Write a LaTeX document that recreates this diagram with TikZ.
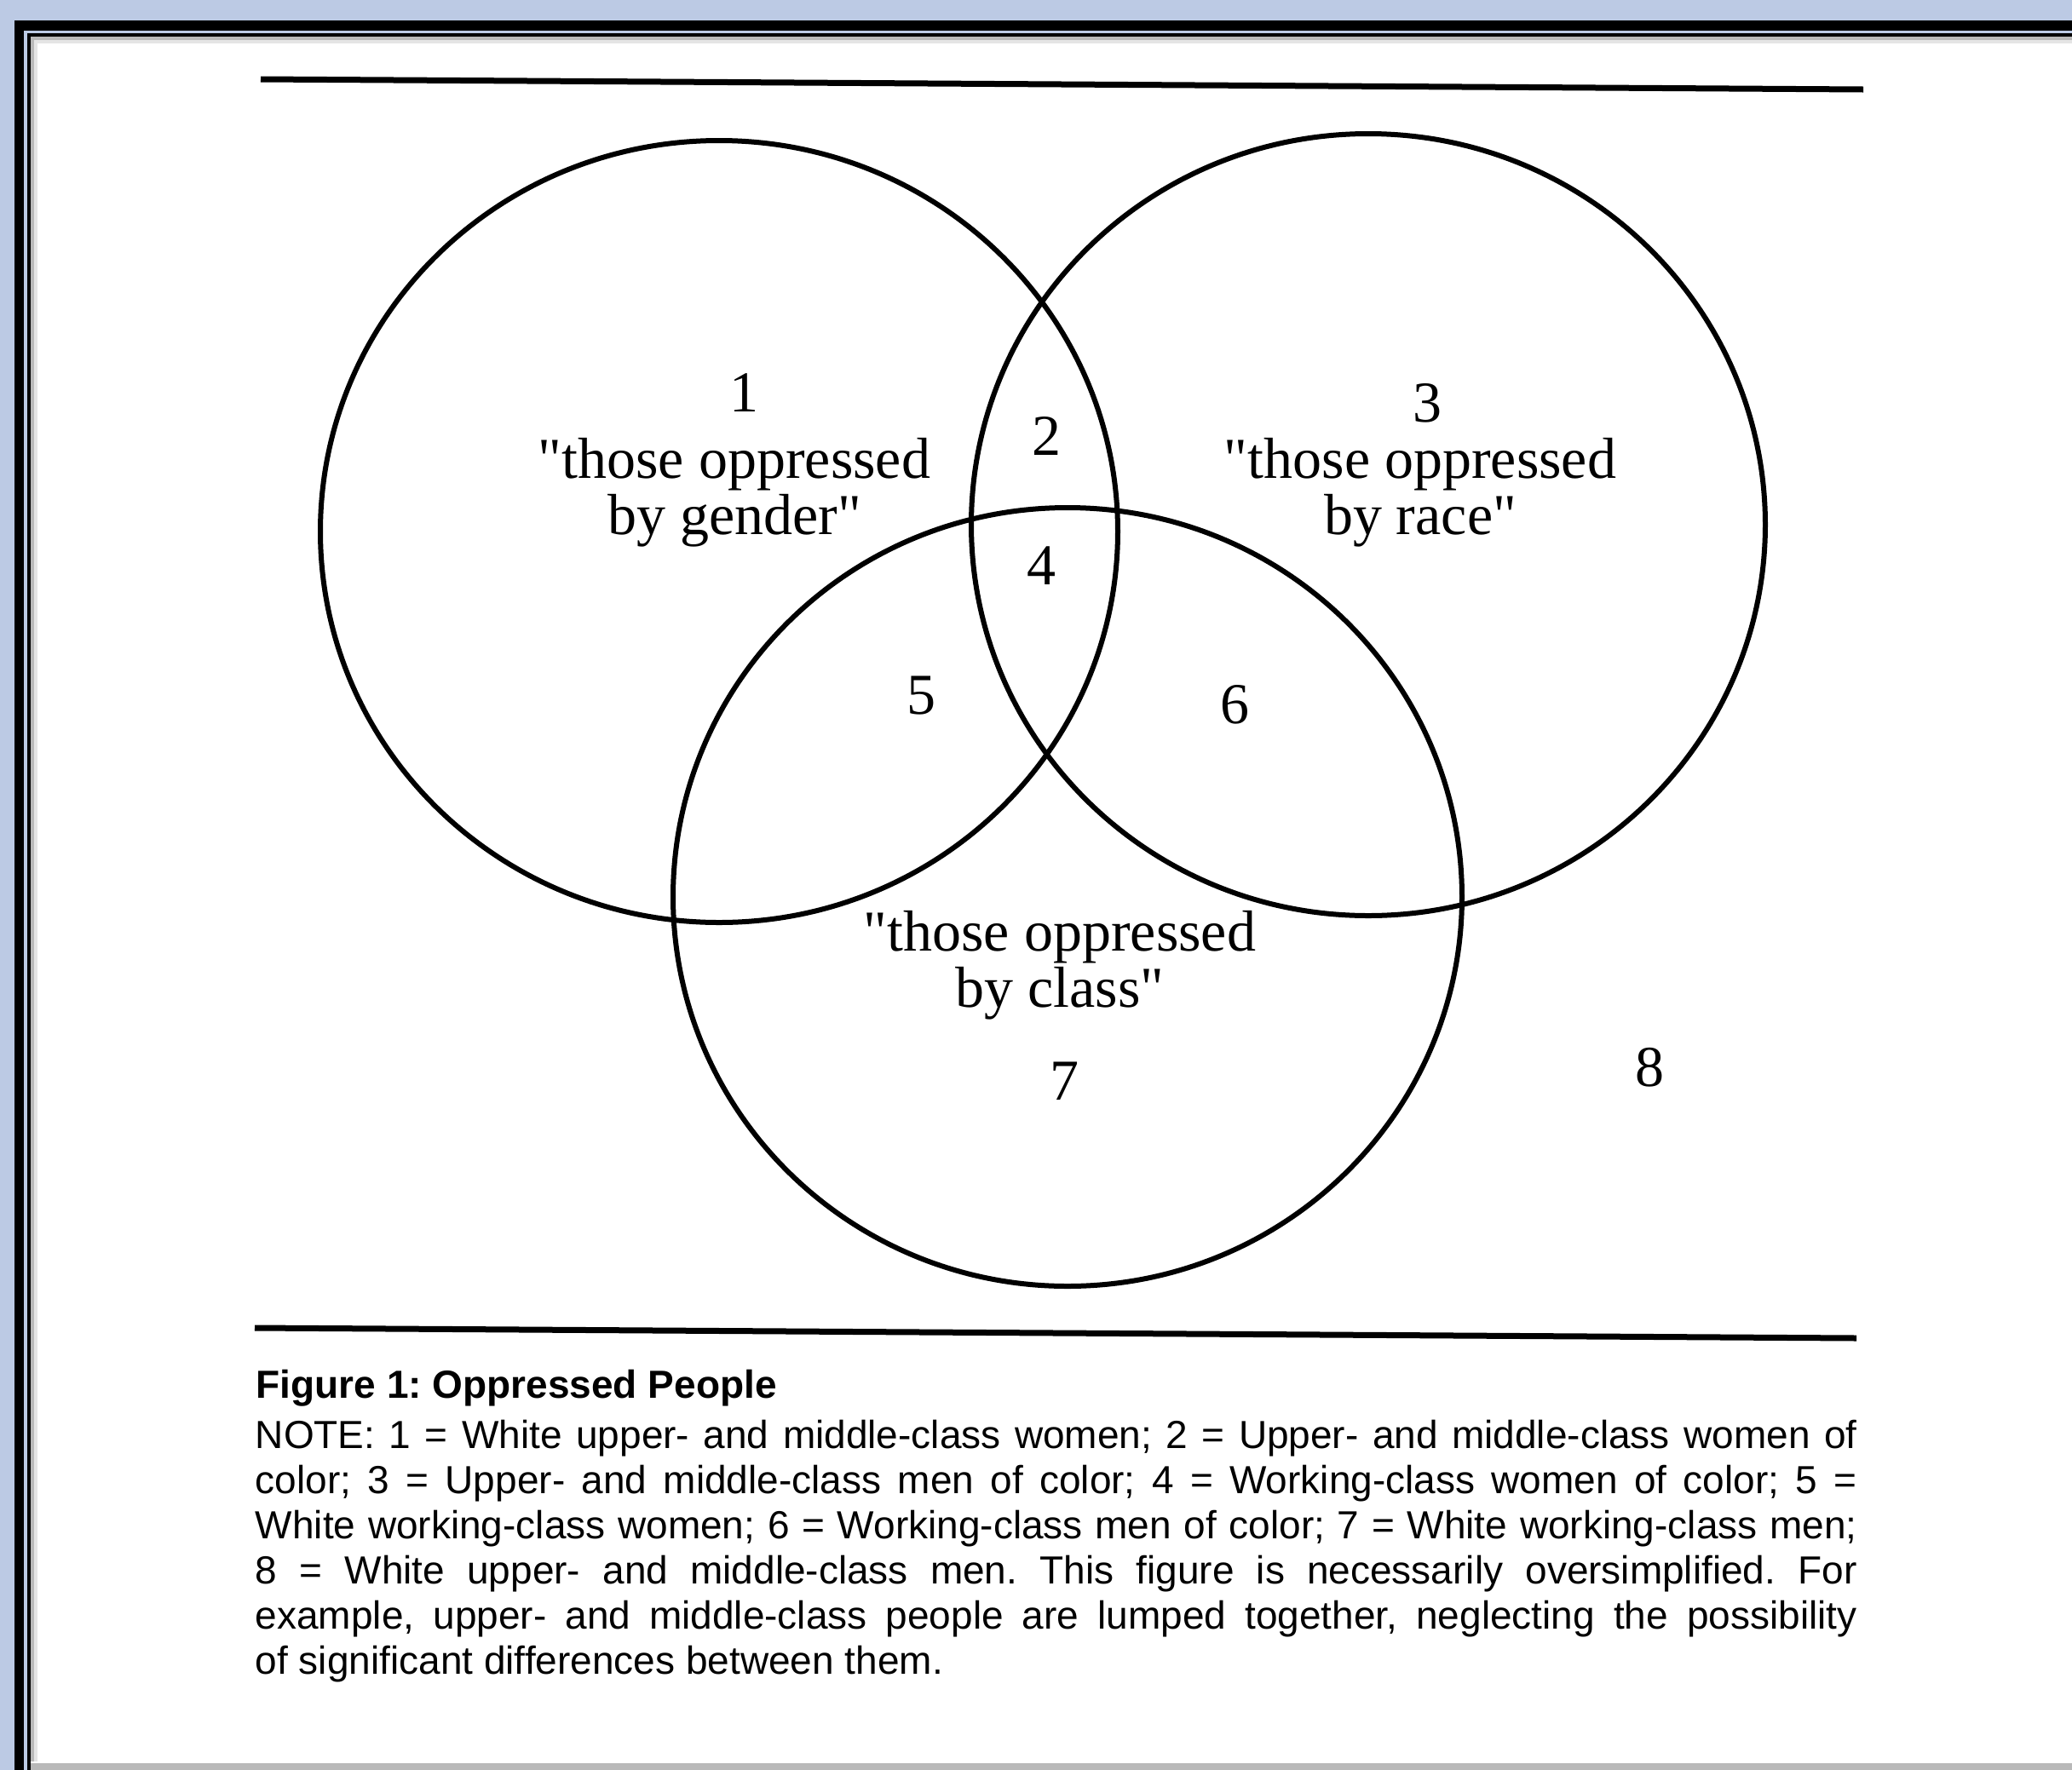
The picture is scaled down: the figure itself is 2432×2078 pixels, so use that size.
\documentclass[tikz,border=0pt]{standalone}
\usepackage{fontspec}
\setmainfont{Liberation Serif}[Ligatures=TeXOff]
\newfontfamily\capfont{Liberation Sans}
\definecolor{bgblue}{RGB}{188,202,228}
\begin{document}
\begin{tikzpicture}[x=0.25pt,y=-0.25pt,
  circ/.style={draw=black,line width=1.5pt},
  rulestyle/.style={draw=black,line width=1.75pt},
  lbl/.style={inner sep=0pt,font=\fontsize{17}{16.4}\selectfont,align=center},
  captitle/.style={inner sep=0pt,font=\capfont\bfseries\fontsize{11.5}{13.25}\selectfont},
  capbody/.style={inner sep=0pt,text width=470pt,align=justify,
    font=\capfont\fontsize{11.5}{13.25}\selectfont}]
\useasboundingbox (0,0) rectangle (2432,2078);
% frame
\fill[bgblue] (0,0) rectangle (2432,2078);
\fill[black] (17,24) rectangle (2432,2078);
\fill[bgblue] (28,36) rectangle (2432,2078);
\fill[black] (32,39) rectangle (2432,2078);
\fill[white] (36,43) rectangle (2432,2070);
\fill[gray!55] (36,2070) rectangle (2432,2078);
\draw[gray!55,line width=1pt] (38,2068) -- (38,45) -- (2432,45);
\draw[gray!20,line width=1pt] (42,2068) -- (42,49) -- (2432,49);
% rules
\coordinate (tl) at (306,93);
\coordinate (tr) at (2187,105);
\coordinate (bl) at (299,1559);
\coordinate (br) at (2179,1571);
\draw[rulestyle] (tl) -- (tr);
\draw[rulestyle] (bl) -- (br);
% circles
\coordinate (gender) at (844,624);
\coordinate (race) at (1606,616);
\coordinate (class) at (1253,1053);
\draw[circ] (gender) ellipse [x radius=117pt, y radius=114.75pt];
\draw[circ] (race) ellipse [x radius=116.5pt, y radius=114.75pt];
\draw[circ] (class) ellipse [x radius=115.75pt, y radius=114.25pt];
% labels
\node[lbl] (n1) at (873,461) {1};
\node[lbl] (lgender) at (862,578) {"those oppressed\\by gender"};
\node[lbl] (n2) at (1228,512) {2};
\node[lbl] (n3) at (1675,473) {3};
\node[lbl] (lrace) at (1667,578) {"those oppressed\\by race"};
\node[lbl] (n4) at (1222,664) {4};
\node[lbl] (n5) at (1081,817) {5};
\node[lbl] (n6) at (1449,827) {6};
\node[lbl] (lclass) at (1244,1133) {"those oppressed\\by class"};
\node[lbl] (n7) at (1249,1269) {7};
\node[lbl] (n8) at (1936,1253) {8};
% caption
\node[captitle,anchor=base west] (ctitle) at (300,1641) {\frenchspacing Figure 1: Oppressed People};
\node[capbody,anchor=base west] (cbody) at (299,1700) {\frenchspacing\tolerance=10000\hyphenpenalty=10000\emergencystretch=20pt
NOTE: 1 = White upper- and middle-class women; 2 = Upper- and middle-class women of\linebreak
color; 3 = Upper- and middle-class men of color; 4 = Working-class women of color; 5 =\linebreak
White working-class women; 6 = Working-class men of color; 7 = White working-class men;\linebreak
8 = White upper- and middle-class men. This figure is necessarily oversimplified. For\linebreak
example, upper- and middle-class people are lumped together, neglecting the possibility\linebreak
of significant differences between them.};
\end{tikzpicture}
\end{document}
